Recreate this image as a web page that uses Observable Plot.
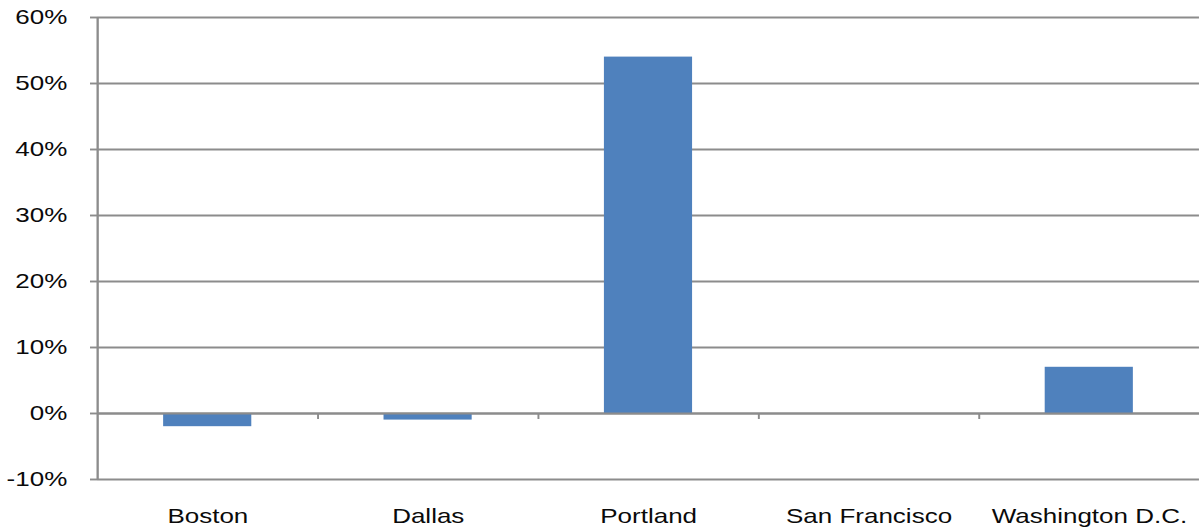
<!DOCTYPE html>
<html><head><meta charset="utf-8">
<script src="https://cdn.jsdelivr.net/npm/d3@7"></script>
<script src="https://cdn.jsdelivr.net/npm/@observablehq/plot@0.6"></script>
<style>
html,body{margin:0;padding:0;background:#fff;overflow:hidden}
#chart{width:1199px;height:529px;overflow:hidden}
#chart svg{transform:scaleX(1.3);transform-origin:0 0;display:block}
</style></head><body><div id="chart"></div>
<script>
const categories = ["Boston", "Dallas", "Portland", "San Francisco", "Washington D.C."];
const values = [-2, -1, 54, 0, 7];
const yTicks = [-10, 0, 10, 20, 30, 40, 50, 60];
const data = categories.map((c, i) => ({city: c, value: values[i]}));

const S = 1.3;
const width = 1199 / S;
const marginLeft = 97 / S;
const step = (width - marginLeft) / categories.length;
const grey = "#8c8c8c";

const chart = Plot.plot({
  width, height: 529,
  marginLeft, marginRight: 0, marginTop: 17, marginBottom: 50,
  style: {fontFamily: "'Liberation Sans', Arial, sans-serif", fontSize: "20px", color: "#0a0a0a", background: "#fff", overflow: "visible"},
  x: {domain: categories, paddingInner: 0.6, paddingOuter: 0.3, round: false, label: null},
  y: {domain: [-10, 60], label: null},
  marks: [
    Plot.gridY(yTicks, {stroke: grey, strokeOpacity: 1, strokeWidth: 1.9}),
    Plot.barY(data, {x: "city", y: "value", fill: "#4F81BD"}),
    Plot.ruleY([0], {stroke: grey, strokeWidth: 1.9}),
    Plot.ruleX(categories.slice(1), {x: d => d, y1: 0, y2: 0, insetBottom: -6, dx: -step / 2, stroke: grey, strokeWidth: 1.5}),
    Plot.ruleX([categories[0]], {x: d => d, y1: -10, y2: 60, dx: -step / 2, stroke: grey, strokeWidth: 1.8}),
    Plot.axisY(yTicks, {tickFormat: d => d + "%", tickSize: 7 / S, tickPadding: 18, stroke: grey, strokeWidth: 1.9, fill: "#0a0a0a"}),
    Plot.axisX({tickSize: 0, tickPadding: 29, fill: "#0a0a0a"})
  ]
});
document.getElementById("chart").appendChild(chart);
</script></body></html>
